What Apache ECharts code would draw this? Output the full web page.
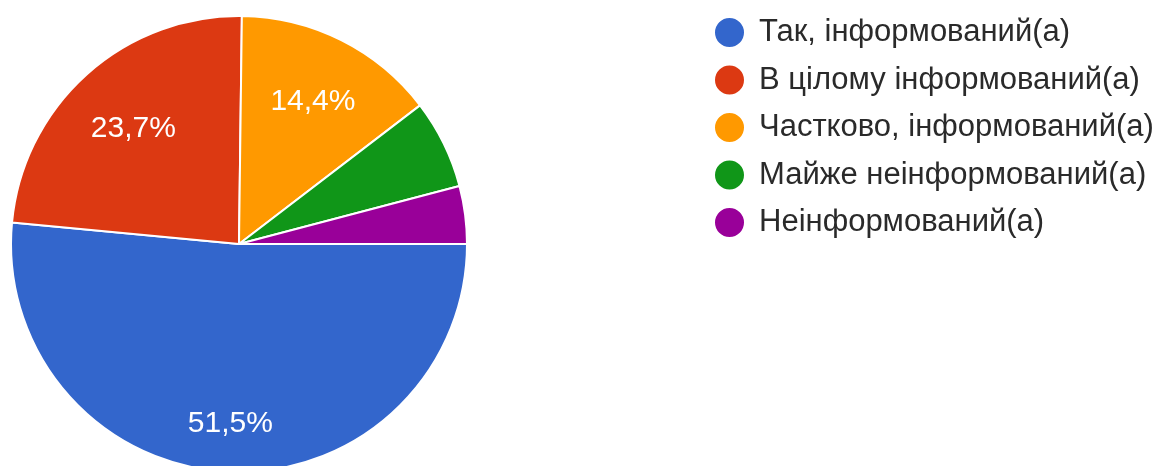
<!DOCTYPE html>
<html>
<head>
<meta charset="utf-8">
<script src="https://cdn.jsdelivr.net/npm/echarts@6/dist/echarts.min.js"></script>
<style>
html,body{margin:0;padding:0;background:#fff;}
#chart{width:1157px;height:466px;}
</style>
</head>
<body>
<div id="chart"></div>
<script>
const categories = ['Так, інформований(а)', 'В цілому інформований(а)', 'Частково, інформований(а)', 'Майже неінформований(а)', 'Неінформований(а)'];
const values = [51.5, 23.7, 14.4, 6.3, 4.1];
const colors = ['#3366CC', '#DC3912', '#FF9900', '#109618', '#990099'];
const labelShown = [true, true, true, false, false];
const labelShift = [[-1, 17], [3, 6], [1, 3], [0, 0], [0, 0]];

const chart = echarts.init(document.getElementById('chart'));
const R = 228;
const center = [239, 244];

chart.setOption({
  animation: false,
  color: colors,
  legend: {
    orient: 'vertical',
    left: 713,
    top: 16,
    padding: 0,
    icon: 'circle',
    itemWidth: 31,
    itemHeight: 31,
    itemGap: 14.5,
    selectedMode: false,
    data: categories,
    textStyle: {
      fontFamily: 'Liberation Sans, Arial, sans-serif',
      fontSize: 31,
      color: '#2a2a2a',
      padding: [0, 0, 0, 9]
    }
  },
  series: [
    {
      type: 'pie',
      center: center,
      radius: R,
      startAngle: 0,
      clockwise: true,
      avoidLabelOverlap: false,
      label: { show: false },
      labelLine: { show: false },
      itemStyle: { borderColor: '#ffffff', borderWidth: 2 },
      emphasis: { disabled: true },
      data: categories.map((n, i) => ({ name: n, value: values[i], itemStyle: { color: colors[i] } }))
    },
    {
      type: 'pie',
      center: center,
      radius: [R * 0.4, R],
      startAngle: 0,
      clockwise: true,
      silent: true,
      avoidLabelOverlap: false,
      labelLine: { show: false },
      itemStyle: { color: 'rgba(0,0,0,0)', borderWidth: 0 },
      label: {
        position: 'inside',
        color: '#ffffff',
        fontFamily: 'Liberation Sans, Arial, sans-serif',
        fontSize: 30,
        formatter: p => p.value.toFixed(1).replace('.', ',') + '%'
      },
      data: categories.map((n, i) => ({
        name: n,
        value: values[i],
        label: { show: labelShown[i], offset: labelShift[i] }
      }))
    }
  ]
});
</script>
</body>
</html>
